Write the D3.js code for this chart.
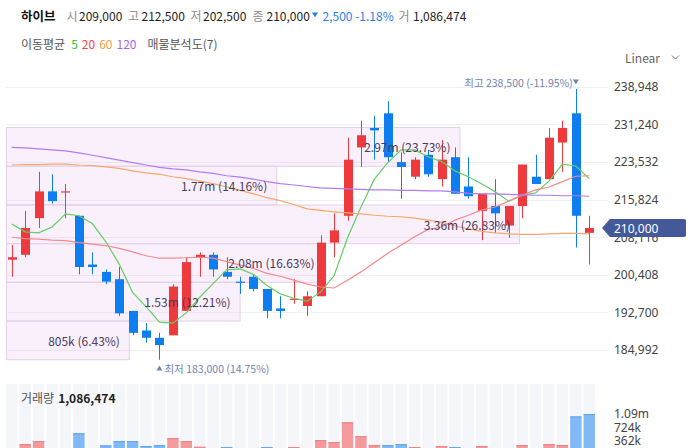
<!DOCTYPE html>
<html>
<head>
<meta charset="utf-8">
<script src="https://cdn.jsdelivr.net/npm/d3@7"></script>
<style>
body { margin: 0; background: #fff; }
svg { display: block; font-family: "Noto Sans CJK KR", "Noto Sans", sans-serif; }
</style>
</head>
<body>
<svg id="chart" width="691" height="448"></svg>
<script>
// daily candles, oldest first
const opens  = [203500, 204500, 212000, 217500, 217500, 212500, 202500, 201000, 199500, 193000, 189000, 187500, 188000, 193000, 204000, 204500, 201000, 199000, 200000, 197500, 193500, 195500, 194000, 196000, 207000, 212500, 226500, 230500, 233500, 223500, 220500, 225000, 220000, 224500, 218500, 213500, 214500, 210500, 214500, 220500, 220000, 227500, 233500, 209000];
const highs  = [206500, 213500, 221500, 221000, 219000, 212500, 205000, 201500, 202000, 193000, 190500, 188500, 198500, 204000, 205000, 205000, 204000, 200000, 200500, 197500, 196000, 199500, 197000, 208500, 213000, 228500, 232000, 233000, 236000, 225500, 224500, 226000, 228000, 226500, 224500, 217000, 220000, 214500, 223000, 225000, 230500, 232000, 238500, 212500];
const lows   = [200000, 204000, 210000, 215000, 212000, 200500, 200500, 198500, 192000, 188000, 186500, 183000, 188000, 193000, 200000, 200000, 199500, 196500, 197000, 191500, 191500, 194500, 192000, 196000, 204000, 211500, 222500, 224000, 223500, 216000, 220000, 220500, 218500, 217000, 216000, 207500, 209000, 208000, 212000, 219000, 220000, 221500, 206000, 202500];
const closes = [204000, 210000, 217500, 215500, 217500, 202000, 202000, 199000, 192500, 188500, 187500, 186000, 198000, 203000, 204500, 201500, 200000, 199000, 197500, 193000, 193000, 195500, 196000, 207000, 209500, 224000, 229000, 230000, 224500, 222500, 224000, 221000, 224000, 217000, 216500, 217000, 213000, 214500, 223000, 219000, 228500, 230500, 212500, 210000];
const volumes = [150000, 283000, 362000, 160000, 140000, 573000, 170000, 248000, 362000, 362000, 230000, 256000, 441000, 362000, 211000, 150000, 203000, 120000, 130000, 203000, 160000, 203000, 170000, 388000, 335000, 864000, 494000, 256000, 256000, 283000, 203000, 160000, 230000, 203000, 150000, 230000, 170000, 160000, 256000, 140000, 283000, 256000, 1022000, 1086474];

// moving averages
const ma5   = [210800, 209200, 209000, 210200, 212900, 212500, 210900, 207200, 202600, 196800, 193900, 190700, 190500, 192600, 195800, 198600, 201400, 201600, 200500, 198200, 196500, 195600, 195000, 196900, 200200, 208000, 214300, 220000, 223400, 226000, 226000, 224600, 223600, 221700, 220500, 219000, 217400, 215500, 216700, 217200, 219600, 223100, 222700, 220100];
const ma20  = [208100, 207800, 207700, 207500, 207400, 207000, 206700, 206400, 205800, 205100, 204300, 203800, 203800, 203900, 204000, 203800, 203100, 202400, 201700, 200700, 200100, 199300, 198500, 197900, 197700, 199300, 201000, 202900, 204800, 206500, 208200, 209700, 210200, 211600, 212600, 213700, 214300, 215500, 216700, 217800, 218400, 219500, 220600, 220700];
const ma60  = [222900, 223000, 223000, 223100, 223100, 222900, 222800, 222500, 222200, 221700, 221300, 221000, 220500, 220100, 219600, 219100, 218400, 217700, 217000, 216200, 215600, 214800, 213900, 213600, 213300, 213100, 212900, 212600, 212400, 212300, 212000, 211600, 211200, 210400, 209800, 209300, 209000, 208800, 208700, 208700, 208800, 208900, 208900, 208800];
const ma120 = [226500, 226400, 226200, 226000, 225800, 225400, 224900, 224400, 223900, 223400, 222900, 222400, 222100, 221900, 221500, 221200, 220700, 220400, 220000, 219500, 219100, 218800, 218500, 218200, 218100, 218000, 217900, 217800, 217800, 217700, 217700, 217600, 217600, 217400, 217100, 217000, 217000, 216900, 216800, 216700, 216700, 216600, 216600, 216500];

const maNames  = ["5", "20", "60", "120"];
const maColors = ["#63cf63", "#f6898c", "#f6a76c", "#b07cf6"];
const maLegendColors = ["#33c233", "#f4464e", "#f59b4c", "#9f66ef"];

// price axis ticks
const yTicks = [184992, 192700, 200408, 208116, 215824, 223532, 231240, 238948];

// 매물분석도: 7 price bands from the low to the high, bottom first
const profileVolumes  = [805000, 1530000, 2080000, 3360000, 1770000, 2970000, 0];
const profilePercents = [6.43, 12.21, 16.63, 26.83, 14.16, 23.73, 0];

// volume axis
const volTicks = [362158, 724316, 1086474];
const volTickLabels = ["362k", "724k", "1.09m"];

const upColor = "#ef3a3d";
const downColor = "#0d7df0";
const numFont = "\"Noto Sans\", \"Noto Sans CJK KR\", sans-serif";

let svg = d3.select("#chart");
let n = closes.length;
let last = n - 1;
let fmt = d3.format(",");

let x = d3.scaleBand().domain(d3.range(n)).range([5, 596]);
let cx = i => x(i) + x.bandwidth() / 2;
let y = d3.scaleLinear().domain([184992, 238948]).range([350, 86.7]);
let vy = d3.scaleLinear().domain([0, 1086474]).range([454.7, 414]);

// candle colour: close vs open, ties go by previous close
function isUp(i) {
	if (closes[i] !== opens[i]) return closes[i] > opens[i];
	return i === 0 || closes[i] >= closes[i - 1];
}
function volUp(i) {
	return i === 0 ? closes[i] >= opens[i] : closes[i] >= closes[i - 1];
}

// ---------- header ----------
let prevClose = closes[last - 1];
let change = closes[last] - prevClose;
let pct = change / prevClose * 100;

let head = svg.append("g").attr("font-size", 12).attr("dominant-baseline", "central");
head.append("text").attr("x", 21).attr("y", 15).attr("font-weight", "bold").attr("font-size", 12.5).attr("fill", "#111").text("하이브");
let headItems = [
	["시", 66.5, fmt(opens[last]), 79],
	["고", 128, fmt(highs[last]), 141.5],
	["저", 190.5, fmt(lows[last]), 203],
	["종", 252.5, fmt(closes[last]), 266.5]
];
headItems.forEach(h => {
	head.append("text").attr("x", h[1]).attr("y", 15).attr("fill", "#8c8c8c").text(h[0]);
	head.append("text").attr("x", h[3]).attr("y", 15).attr("fill", "#222").text(h[2]);
});
head.append("path").attr("d", "M312,12.5 L318,12.5 L315,17.5 Z").attr("fill", "#2b7de9");
head.append("text").attr("x", 322.5).attr("y", 15).attr("fill", "#2b7de9")
	.text(fmt(Math.abs(change)) + " " + (change < 0 ? "-" : "+") + Math.abs(pct).toFixed(2) + "%");
head.append("text").attr("x", 398.5).attr("y", 15).attr("fill", "#8c8c8c").text("거");
head.append("text").attr("x", 413).attr("y", 15).attr("fill", "#222").text(fmt(volumes[last]));

// moving average legend
let legend = svg.append("text").attr("x", 21).attr("y", 43).attr("font-size", 12)
	.attr("dominant-baseline", "central").attr("fill", "#555");
legend.append("tspan").text("이동평균");
maNames.forEach((name, k) => {
	legend.append("tspan").attr("dx", k === 0 ? 6 : 4).attr("fill", maLegendColors[k]).text(name);
});
legend.append("tspan").attr("dx", 11).text("매물분석도(7)");

// scale switch
svg.append("text").attr("x", 625).attr("y", 57).attr("font-size", 12).attr("dominant-baseline", "central")
	.attr("fill", "#666").text("Linear");
svg.append("path").attr("d", "M672,55.5 L675.5,59 L679,55.5").attr("fill", "none").attr("stroke", "#777").attr("stroke-width", 1);

// ---------- price panel ----------
svg.append("g").selectAll("line").data(yTicks).join("line")
	.attr("x1", 6).attr("x2", 608)
	.attr("y1", d => Math.round(y(d)) + 0.5).attr("y2", d => Math.round(y(d)) + 0.5)
	.attr("stroke", "#edf0f5");

let yAxis = svg.append("g").attr("transform", "translate(608,0)")
	.call(d3.axisRight(y).tickValues(yTicks).tickFormat(fmt).tickSize(0).tickPadding(6));
yAxis.select(".domain").remove();
yAxis.selectAll("text").attr("font-size", 12).attr("fill", "#444").attr("font-family", numFont);

// volume profile boxes
let pLow = d3.min(lows), pHigh = d3.max(highs);
let bandSize = (pHigh - pLow) / profileVolumes.length;
let px = d3.scaleLinear().domain([0, d3.max(profileVolumes)]).range([6, 519]);
let profile = profileVolumes.map((v, i) => ({
	v: v, pct: profilePercents[i],
	top: y(pLow + (i + 1) * bandSize), bottom: y(pLow + i * bandSize)
})).filter(d => d.v > 0);

svg.append("g").selectAll("rect").data(profile).join("rect")
	.attr("x", 6.5).attr("y", d => d.top)
	.attr("width", d => px(d.v) - 6).attr("height", d => d.bottom - d.top)
	.attr("fill", "rgb(232,178,242)").attr("fill-opacity", 0.2)
	.attr("stroke", "#e4d0ea").attr("stroke-width", 1);

// candles
let candles = svg.append("g").selectAll("g").data(closes).join("g");
candles.append("line")
	.attr("x1", (d, i) => Math.round(cx(i)) + 0.5).attr("x2", (d, i) => Math.round(cx(i)) + 0.5)
	.attr("y1", (d, i) => y(highs[i])).attr("y2", (d, i) => y(lows[i]))
	.attr("stroke", (d, i) => isUp(i) ? upColor : downColor);
candles.append("rect")
	.attr("x", (d, i) => Math.round(cx(i)) - 4)
	.attr("width", 9)
	.attr("y", (d, i) => y(Math.max(opens[i], closes[i])))
	.attr("height", (d, i) => Math.max(1.2, Math.abs(y(opens[i]) - y(closes[i]))))
	.attr("fill", (d, i) => isUp(i) ? upColor : downColor);

// moving averages
let maLine = d3.line().x((d, i) => cx(i)).y(d => y(d));
[ma5, ma20, ma60, ma120].forEach((ma, k) => {
	svg.append("path").attr("d", maLine(ma)).attr("fill", "none")
		.attr("stroke", maColors[k]).attr("stroke-width", 1.2);
});

// profile labels
let profFmt = v => v >= 1e6 ? (v / 1e6).toFixed(2) + "m" : Math.round(v / 1000) + "k";
svg.append("g").selectAll("text").data(profile).join("text")
	.attr("x", d => px(d.v) - 9).attr("y", d => (d.top + d.bottom) / 2)
	.attr("text-anchor", "end").attr("dominant-baseline", "central")
	.attr("font-size", 12).attr("fill", "#4a3c5c")
	.text(d => profFmt(d.v) + " (" + d.pct.toFixed(2) + "%)");

// high / low markers
let hiIdx = highs.indexOf(pHigh), loIdx = lows.indexOf(pLow);
let hiPct = (closes[last] - pHigh) / pHigh * 100;
let loPct = (closes[last] - pLow) / pLow * 100;
svg.append("text").attr("x", cx(hiIdx) - 3).attr("y", 82).attr("text-anchor", "end")
	.attr("dominant-baseline", "central").attr("font-size", 10.5).attr("fill", "#7384b0")
	.text("최고 " + fmt(pHigh) + " (" + hiPct.toFixed(2) + "%)");
svg.append("path").attr("d", `M${cx(hiIdx) - 3},79.5 L${cx(hiIdx) + 3},79.5 L${cx(hiIdx)},84.5 Z`).attr("fill", "#7384b0");
svg.append("path").attr("d", `M${cx(loIdx) - 3},370.5 L${cx(loIdx) + 3},370.5 L${cx(loIdx)},365.5 Z`).attr("fill", "#7384b0");
svg.append("text").attr("x", cx(loIdx) + 5).attr("y", 368).attr("dominant-baseline", "central")
	.attr("font-size", 10.5).attr("fill", "#7384b0")
	.text("최저 " + fmt(pLow) + " (" + loPct.toFixed(2) + "%)");

// current price tag
let ty = Math.round(y(closes[last]));
svg.append("path")
	.attr("d", `M602,${ty} L610,${ty - 9} L684,${ty - 9} Q686,${ty - 9} 686,${ty - 7} L686,${ty + 7} Q686,${ty + 9} 684,${ty + 9} L610,${ty + 9} Z`)
	.attr("fill", "#44599a");
svg.append("text").attr("x", 614).attr("y", ty).attr("dominant-baseline", "central")
	.attr("font-size", 12).attr("font-family", numFont).attr("fill", "#fff").text(fmt(closes[last]));

// ---------- volume panel ----------
let bw = x.bandwidth() * 0.85;
svg.append("g").selectAll("rect").data(volumes).join("rect")
	.attr("x", (d, i) => cx(i) - bw / 2).attr("width", bw)
	.attr("y", 384).attr("height", 70)
	.attr("fill", "#f5f6fa");

let vbars = svg.append("g").selectAll("g").data(volumes).join("g");
vbars.append("rect")
	.attr("x", (d, i) => cx(i) - bw / 2).attr("width", bw)
	.attr("y", d => vy(d)).attr("height", d => vy(0) - vy(d))
	.attr("fill", (d, i) => volUp(i) ? "#f39a9d" : "#80b9f5");
vbars.append("line")
	.attr("x1", (d, i) => cx(i) - bw / 2).attr("x2", (d, i) => cx(i) + bw / 2)
	.attr("y1", d => vy(d) + 0.5).attr("y2", d => vy(d) + 0.5)
	.attr("stroke", (d, i) => volUp(i) ? "#ec7f83" : "#5fa5f0");

let vAxis = svg.append("g").attr("transform", "translate(608,0)")
	.call(d3.axisRight(vy).tickValues(volTicks).tickFormat((d, i) => volTickLabels[i]).tickSize(0).tickPadding(6));
vAxis.select(".domain").remove();
vAxis.selectAll("text").attr("font-size", 12).attr("fill", "#444").attr("font-family", numFont);

let vHead = svg.append("text").attr("x", 21).attr("y", 397).attr("font-size", 12).attr("dominant-baseline", "central");
vHead.append("tspan").attr("fill", "#555").text("거래량");
vHead.append("tspan").attr("dx", 4).attr("fill", "#222").attr("font-weight", "bold").text(fmt(volumes[last]));
</script>
</body>
</html>
